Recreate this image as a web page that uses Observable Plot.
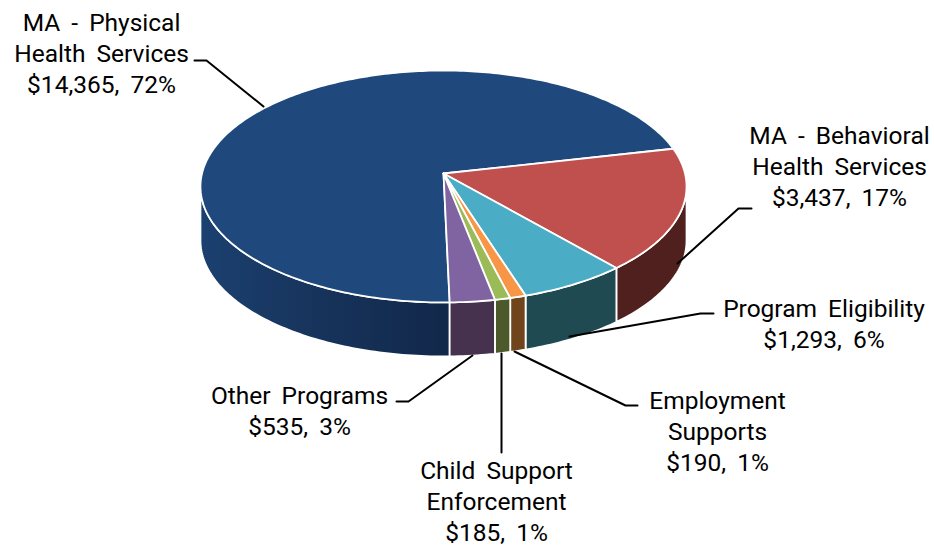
<!DOCTYPE html>
<html>
<head>
<meta charset="utf-8">
<script src="https://cdn.jsdelivr.net/npm/d3@7"></script>
<script src="https://cdn.jsdelivr.net/npm/@observablehq/plot@0.6"></script>
<style>
  html, body { margin: 0; padding: 0; background: #fff; }
  svg { display: block; }
</style>
</head>
<body>
<div id="chart"></div>
<script>
// Spending by program
const programs = ["MA - Physical Health Services", "MA - Behavioral Health Services", "Program Eligibility", "Employment Supports", "Child Support Enforcement", "Other Programs"];
const amounts = [14365, 3437, 1293, 190, 185, 535];
const percents = [72, 17, 6, 1, 1, 3];
const labelLines = [
  ["MA - Physical", "Health Services"],
  ["MA - Behavioral", "Health Services"],
  ["Program Eligibility"],
  ["Employment", "Supports"],
  ["Child Support", "Enforcement"],
  ["Other Programs"]
];
const topColors = ["#1f497d", "#c0504d", "#4bacc6", "#f79646", "#9bbb59", "#8064a2"];
const wallColors = ["url(#wall-blue)", "#4f201e", "#1f4a52", "#71451b", "#4c5a2b", "#46324f"];

// Label block centres and leader lines, in page units
const labelAt = [[101, 51.5], [839, 164.5], [823.5, 322], [717, 429.5], [496, 499.5], [299, 409]];
const leaders = [
  [[194, 60], [206, 60], [263, 106]],
  [[751, 208], [738, 208], [677, 263]],
  [[713, 313], [700, 313], [569, 336]],
  [[637, 405], [625, 405], [514, 351]],
  [[501, 452], [501, 353]],
  [[396, 401], [408, 401], [472, 355]]
];

// Tilted disc: a circle seen in perspective, apex at the circle's centre
const apex = {x: 443, y: 173};
const disc = {a: 241.5, b: 114.5, k: 0.112, depth: 54, start: -1.3};

function project(deg, drop = 0) {
  const t = deg * Math.PI / 180;
  const u = -Math.sin(t), v = Math.cos(t), w = 1 - disc.k * v;
  return {x: apex.x + disc.a * u / w, y: apex.y + disc.b * v / w + drop};
}
function arc(from, to, drop = 0) {
  const n = Math.max(2, Math.ceil(Math.abs(to - from)));
  return d3.range(n + 1).map((i) => project(from + (to - from) * i / n, drop));
}

const total = d3.sum(amounts);
let cursor = disc.start;
const slices = amounts.map((value, i) => {
  const from = cursor;
  cursor += value / total * 360;
  return {i, from, to: cursor};
});

// Only the near half of the rim shows a wall
const rimLimit = Math.acos(disc.k) * 180 / Math.PI;
const walls = slices.flatMap(({i, from, to}) => {
  const a = Math.max(from, -rimLimit), b = Math.min(to, rimLimit);
  const c = Math.max(from, 360 - rimLimit), d = Math.min(to, 360);
  const span = b > a ? [a, b] : d > c ? [c, d] : null;
  if (!span) return [];
  return [{i, points: [...arc(span[0], span[1]), ...arc(span[1], span[0], disc.depth)]}];
});

const gradient = () => {
  const defs = d3.create("svg:defs");
  const g = defs.append("linearGradient").attr("id", "wall-blue");
  g.append("stop").attr("offset", "0%").attr("stop-color", "#1b4070");
  g.append("stop").attr("offset", "45%").attr("stop-color", "#17345c");
  g.append("stop").attr("offset", "100%").attr("stop-color", "#12274a");
  return defs.node();
};

const chart = Plot.plot({
  width: 934,
  height: 547,
  margin: 0,
  x: {domain: [0, 934], axis: null},
  y: {domain: [547, 0], axis: null},
  style: {fontFamily: "Roboto, sans-serif", background: "#fff", wordSpacing: "5px"},
  marks: [
    gradient,
    ...walls.map(({i, points}) => Plot.line(points, {
      x: "x", y: "y", curve: "linear-closed",
      fill: wallColors[i], stroke: "#fff", strokeWidth: 1.8, strokeLinejoin: "round"
    })),
    ...slices.map(({i, from, to}) => Plot.line([apex, ...arc(from, to)], {
      x: "x", y: "y", curve: "linear-closed",
      fill: topColors[i], stroke: "#fff", strokeWidth: 1.8, strokeLinejoin: "round"
    })),
    ...leaders.map((path) => Plot.line(path, {
      x: (d) => d[0], y: (d) => d[1], stroke: "#000", strokeWidth: 2
    })),
    Plot.text(programs, {
      x: (_, i) => labelAt[i][0],
      y: (_, i) => labelAt[i][1],
      text: (_, i) => [...labelLines[i], `$${d3.format(",")(amounts[i])}, ${percents[i]}%`].join("\n"),
      lineAnchor: "middle",
      lineHeight: 31 / 24.5,
      fontSize: 24.5,
      fill: "#000"
    })
  ]
});
document.getElementById("chart").append(chart);
</script>
</body>
</html>
